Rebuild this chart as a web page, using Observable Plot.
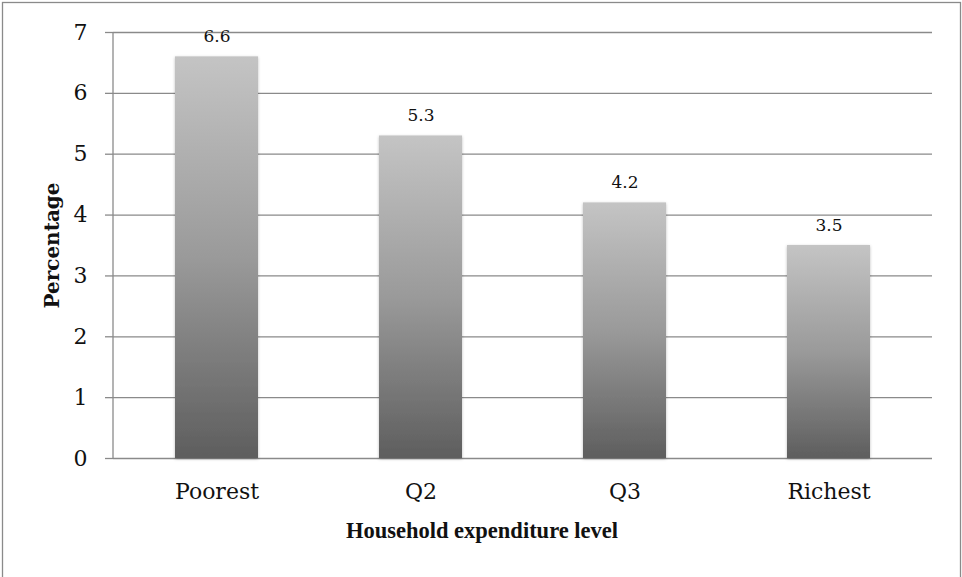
<!DOCTYPE html>
<html>
<head>
<meta charset="utf-8">
<script src="https://cdn.jsdelivr.net/npm/d3@7"></script>
<script src="https://cdn.jsdelivr.net/npm/@observablehq/plot@0.6"></script>
<style>
  html, body { margin: 0; padding: 0; background: #fff; }
  #chart { position: relative; width: 962px; height: 577px; }
</style>
</head>
<body>
<div id="chart"></div>
<script>
const categories = ["Poorest", "Q2", "Q3", "Richest"];
const values = [6.6, 5.3, 4.2, 3.5];
const valueLabels = ["6.6", "5.3", "4.2", "3.5"];
const yTicks = [0, 1, 2, 3, 4, 5, 6, 7];
const xTitle = "Household expenditure level";
const yTitle = "Percentage";

const data = categories.map((c, i) => ({category: c, value: values[i], label: valueLabels[i]}));

const font = "'DejaVu Serif', 'Liberation Serif', serif";

const plot = Plot.plot({
  width: 962,
  height: 577,
  marginLeft: 113,
  marginRight: 30,
  marginTop: 32,
  marginBottom: 119,
  style: {fontFamily: font, background: "transparent", overflow: "visible"},
  x: {domain: categories, paddingInner: 0.595, paddingOuter: 0.2975, label: null},
  y: {domain: [0, 7], label: null},
  marks: [
    Plot.gridY(yTicks, {stroke: "#8a8a8a", strokeOpacity: 1, strokeWidth: 1.3}),
    Plot.axisY(yTicks, {tickSize: 8, tickPadding: 18, stroke: "#8a8a8a", strokeOpacity: 1, strokeWidth: 1.3, fontSize: 22, fill: "#111", tickFormat: d => String(d)}),
    Plot.barY(data, {x: "category", y: "value", fill: "url(#barGrad)"}),
    Plot.axisX({tickSize: 0, tickPadding: 25, fontSize: 22, fill: "#111"}),
    Plot.text(data, {x: "category", y: "value", text: "label", dy: -20, fontSize: 17, fill: "#111"}),
    Plot.text([xTitle], {frameAnchor: "bottom", lineAnchor: "middle", dx: -41, dy: 72, fontSize: 22.5, fontWeight: "bold", fill: "#111", fontFamily: "'Liberation Serif', serif"}),
    Plot.text([yTitle], {frameAnchor: "left", textAnchor: "middle", lineAnchor: "middle", dx: -61, rotate: -90, fontSize: 20, fontWeight: "bold", fill: "#111"})
  ]
});

const svg = d3.select(plot);
const defs = svg.insert("defs", ":first-child");
const grad = defs.append("linearGradient").attr("id", "barGrad")
  .attr("x1", 0).attr("y1", 0).attr("x2", 0).attr("y2", 1);
grad.append("stop").attr("offset", "0%").attr("stop-color", "#c4c4c4");
grad.append("stop").attr("offset", "50%").attr("stop-color", "#9a9a9a");
grad.append("stop").attr("offset", "100%").attr("stop-color", "#5e5e5e");
const filt = defs.append("filter").attr("id", "barShadow").attr("x", "-10%").attr("y", "-10%").attr("width", "120%").attr("height", "120%");
filt.append("feDropShadow").attr("dx", 0).attr("dy", 1).attr("stdDeviation", 1.5).attr("flood-color", "#000").attr("flood-opacity", 0.25);
svg.selectAll("g[aria-label='bar'] rect").attr("filter", "url(#barShadow)");

// vertical axis line at the left edge of the plot area, from the plot's own scales
const xr = plot.scale("x").range;
const yr = plot.scale("y").range;
svg.append("line")
  .attr("x1", xr[0]).attr("x2", xr[0]).attr("y1", yr[0]).attr("y2", yr[1])
  .attr("stroke", "#8a8a8a").attr("stroke-width", 1.3);

// outer chart border
svg.insert("rect", "defs + *")
  .attr("x", 2.5).attr("y", 2.5).attr("width", 958).attr("height", 590)
  .attr("fill", "none").attr("stroke", "#8a8a8a").attr("stroke-width", 1.3);

document.getElementById("chart").appendChild(plot);
</script>
</body>
</html>
